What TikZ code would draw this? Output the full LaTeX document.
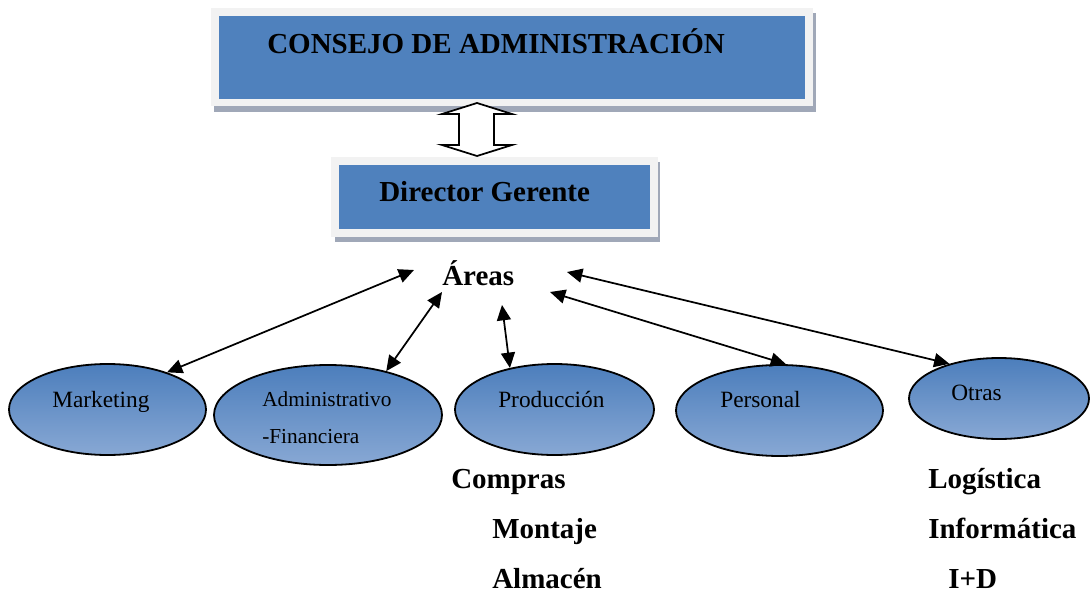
\documentclass[tikz,border=0pt]{standalone}
\usepackage{fontspec}
\setmainfont{Liberation Serif}
\usetikzlibrary{arrows.meta,shapes.geometric}
\definecolor{boxblue}{RGB}{79,129,189}
\definecolor{framegray}{RGB}{242,242,242}
\definecolor{shadowgray}{RGB}{160,168,184}
\definecolor{elltop}{RGB}{76,126,188}
\definecolor{ellbot}{RGB}{136,168,212}
\tikzset{
  area/.style={ellipse, draw=black, line width=1.35pt, top color=elltop, bottom color=ellbot, inner sep=0pt},
  bluebox/.style={rectangle, fill=boxblue, inner sep=0pt},
  big/.style={font=\fontsize{21.75}{26}\selectfont\bfseries, inner sep=0pt, anchor=base west},
  small/.style={font=\fontsize{17.5}{21}\selectfont, inner sep=0pt, anchor=base west},
  smaller/.style={font=\fontsize{16}{19}\selectfont, inner sep=0pt, anchor=base west},
  link/.style={{Triangle[length=11.5pt,width=10.5pt]}-{Triangle[length=11.5pt,width=10.5pt]}, line width=1.3pt},
  hollow/.style={draw=black, fill=white, line width=1.3pt, line join=miter}
}
\begin{document}
\begin{tikzpicture}[x=0.75pt,y=-0.75pt]
\useasboundingbox (0,0) rectangle (1091,595);
% Consejo box
\fill[shadowgray] (214,13) rectangle (816,112);
\fill[framegray] (211,8) rectangle (813,106);
\node[bluebox, minimum width=439.5pt, minimum height=62.25pt] (consejo) at (512,57.5) {};
\node[big] (tconsejo) at (267,54) {CONSEJO DE ADMINISTRACIÓN};
% Director box
\fill[shadowgray] (335,162) rectangle (660,242);
\fill[framegray] (331,157) rectangle (658,237);
\node[bluebox, minimum width=233.25pt, minimum height=48pt] (director) at (494.5,197) {};
\node[big] (tdirector) at (379,202) {Director Gerente};
% hollow double arrow
\draw[hollow] (477,103) -- (512,114) -- (494,114) -- (494,145) -- (512,145) -- (477,156)
  -- (442,145) -- (459,145) -- (459,114) -- (442,114) -- cycle;
% Areas
\node[big] (areas) at (442,285) {Áreas};
% ellipses
\node[area, minimum width=147.75pt, minimum height=68.25pt] (mkt) at (107.5,409.5) {};
\node[area, minimum width=171pt, minimum height=75pt] (adm) at (328,415) {};
\node[area, minimum width=149.25pt, minimum height=68.25pt] (prod) at (554.5,409.5) {};
\node[area, minimum width=155.25pt, minimum height=68.25pt] (pers) at (779.5,410.5) {};
\node[area, minimum width=135pt, minimum height=60.75pt] (otr) at (999,398.5) {};
\node[small] (tmkt) at (52,407) {Marketing};
\node[smaller] (tadm1) at (262,406) {Administrativo};
\node[smaller] (tadm2) at (262,443) {-Financiera};
\node[small] (tprod) at (498,407) {Producción};
\node[small] (tpers) at (720,407) {Personal};
\node[small] (totr) at (951,400) {Otras};
% sub items
\node[big] (compras) at (451,488) {Compras};
\node[big] (montaje) at (492,538) {Montaje};
\node[big] (almacen) at (492,588) {Almacén};
\node[big] (logistica) at (928,488) {Logística};
\node[big] (informatica) at (928,538) {Informática};
\node[big] (imasd) at (948,588) {I+D};
% connectors
\coordinate (a1) at (414,270);
\coordinate (a2) at (442,292);
\coordinate (a3) at (502,305);
\coordinate (a4) at (550,292);
\coordinate (a5) at (567,272);
\draw[link] (mkt.32) -- (a1);
\draw[link] (adm.37) -- (a2);
\draw[link] (prod.137) -- (a3);
\draw[link] (pers.82) -- (a4);
\draw[link] (otr.145) -- (a5);
\end{tikzpicture}
\end{document}
